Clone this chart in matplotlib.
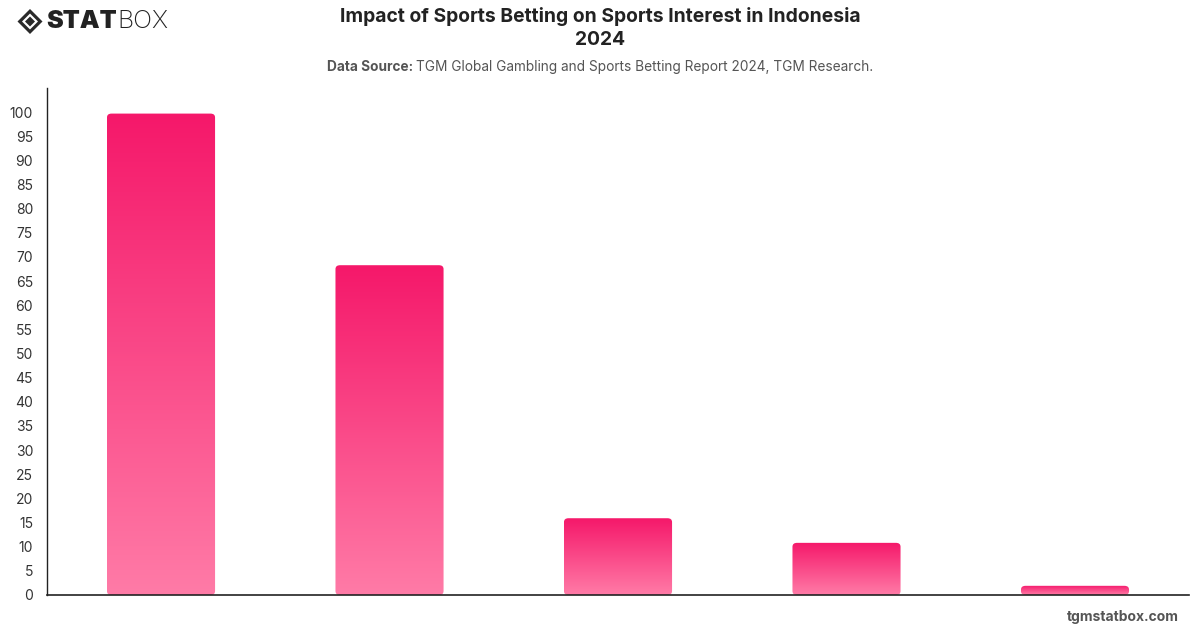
import matplotlib
matplotlib.use("Agg")
import matplotlib.pyplot as plt
import numpy as np
from matplotlib.patches import FancyBboxPatch, Polygon
from matplotlib.colors import LinearSegmentedColormap

categories = ["A", "B", "C", "D", "E"]
values = [99.7, 68.3, 15.9, 10.8, 1.9]
yticks = list(range(0, 101, 5))

plt.rcParams['font.family'] = ['Inter', 'DejaVu Sans']

fig = plt.figure(figsize=(12, 6.28), dpi=100)
L, R, B, T = 47, 1189, 595, 88
ax = fig.add_axes([L/1200, 1 - B/628, (R-L)/1200, (B-T)/628])

cmap = LinearSegmentedColormap.from_list("g", ["#FF7BA7", "#F5186A"])
x = np.arange(len(categories))
width = 0.473
grad = np.linspace(0, 1, 256).reshape(-1, 1)
for xi, v in zip(x, values):
    left = xi - width / 2
    patch = FancyBboxPatch((left, 0), width, v,
                           boxstyle="round,pad=0,rounding_size=0.02",
                           mutation_aspect=40, linewidth=0, facecolor="none")
    ax.add_patch(patch)
    im = ax.imshow(grad, extent=[left, left + width, 0, v], origin="lower",
                   cmap=cmap, aspect="auto", zorder=2)
    im.set_clip_path(patch)

ax.set_xlim(-0.499, 4 + (R - 1075) / 228.5)
ax.set_ylim(0, 105)
ax.set_yticks(yticks)
ax.set_yticklabels([str(t) for t in yticks], fontsize=10, color="#333333")
ax.set_xticks([])
ax.tick_params(axis="y", length=0, pad=10)
for s in ["top", "right"]:
    ax.spines[s].set_visible(False)
ax.spines["left"].set_color("#222222")
ax.spines["bottom"].set_color("#222222")
ax.spines["left"].set_linewidth(1)
ax.spines["bottom"].set_linewidth(1.2)

fig.text(0.5, 1 - 17/628, "Impact of Sports Betting on Sports Interest in Indonesia",
         ha="center", va="center", fontsize=13.9, fontweight="bold", color="#222222")
fig.text(0.5, 1 - 40/628, "2024", ha="center", va="center", fontsize=13.9,
         fontweight="bold", color="#222222")
sub_fs = 9.85
t1 = fig.text(0.5, 1 - 67/628, "Data Source: ", ha="right", va="center", fontsize=sub_fs,
              fontweight="bold", color="#555555")
fig.canvas.draw()
bb = t1.get_window_extent()
fig.texts.remove(t1)
sub_rest = "TGM Global Gambling and Sports Betting Report 2024, TGM Research."
t2 = fig.text(0, 0, sub_rest, fontsize=sub_fs, color="#555555")
bb2 = t2.get_window_extent(renderer=fig.canvas.get_renderer())
fig.texts.remove(t2)
total = bb.width + bb2.width
start = 600 - total / 2
fig.text(start / 1200, 1 - 67/628, "Data Source: ", ha="left", va="center", fontsize=sub_fs,
         fontweight="bold", color="#555555")
fig.text((start + bb.width) / 1200, 1 - 67/628, sub_rest, ha="left", va="center",
         fontsize=sub_fs, color="#555555")

fig.text(1179/1200, 1 - 617/628, "tgmstatbox.com", ha="right", va="center",
         fontsize=10, fontweight="bold", color="#555555")

# logo
cx, cy, r = 30/1200, 1 - 21.5/628, 12.5
def P(dx, dy):
    return (cx + dx / 1200, cy + dy / 628)
outer = Polygon([P(-r, 0), P(0, r), P(r, 0), P(0, -r)], closed=True,
                transform=fig.transFigure, facecolor="#2a2a2a", edgecolor="none")
inner = Polygon([P(-8, 0), P(0, 8), P(8, 0), P(0, -8)], closed=True,
                transform=fig.transFigure, facecolor="white", edgecolor="none")
core = Polygon([P(-5, 0), P(0, 5), P(5, 0), P(0, -5)], closed=True,
               transform=fig.transFigure, facecolor="#2a2a2a", edgecolor="none")
for p in (outer, inner, core):
    fig.add_artist(p)
ts = fig.text(46/1200, 1 - 21/628, "STAT", ha="left", va="center", fontsize=18,
              fontweight="black", color="#222222")
fig.canvas.draw()
bbs = ts.get_window_extent()
fig.text((bbs.x1 + 1) / 1200, 1 - 21/628, "BOX", ha="left", va="center", fontsize=18,
         fontweight="light", color="#222222")

fig.savefig("out.png", dpi=100)
